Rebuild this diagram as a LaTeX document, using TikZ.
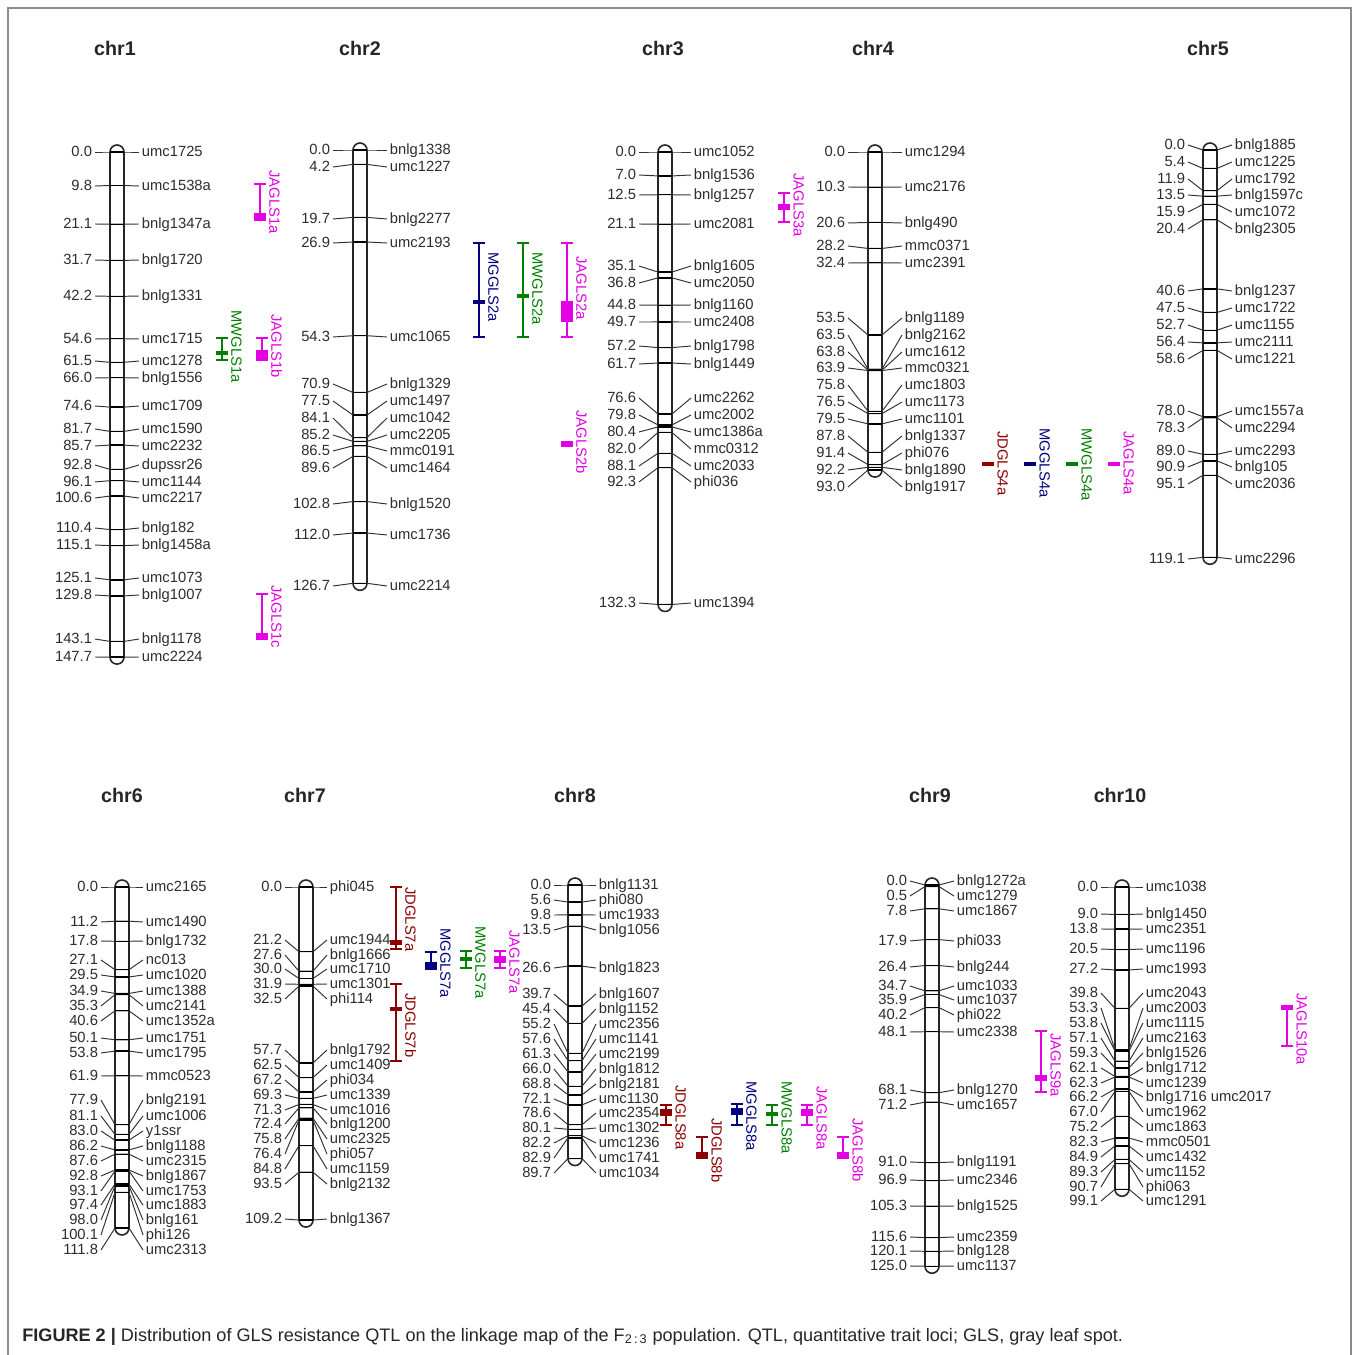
\documentclass[tikz,border=0pt]{standalone}
\usepackage{fontspec}
\setmainfont{Liberation Sans}
\usetikzlibrary{positioning}

\definecolor{colJA}{RGB}{228,0,228}
\definecolor{colMW}{RGB}{0,128,0}
\definecolor{colMG}{RGB}{0,0,128}
\definecolor{colJD}{RGB}{139,0,0}
\definecolor{testo}{RGB}{45,45,45}

% cromosoma: nome, x centro, y di 0 cM, scala, lunghezza, distanza etichette, lista pos/y etichetta/marcatore
\newcommand{\cromo}[7]{%
  \pgfmathsetmacro{\yfine}{#3+#5*#4}
  \draw[barra] (#2-7,#3-7) rectangle (#2+7,\yfine+7);
  \foreach \p/\ly/\m [count=\i] in {#7} {
    \pgfmathsetmacro{\ty}{#3+\p*#4}
    \node[num] (#1-n\i) at (#2-#6,\ly) {\p};
    \node[mk] (#1-m\i) at (#2+#6,\ly) {\m};
    \draw[tacca] (#1-n\i.mid east) -- (#2-7,\ty) -- (#2+7,\ty) -- (#1-m\i.mid west);
    \draw[attraverso] (#2-7,\ty) -- (#2+7,\ty);
  }
}

% QTL: colore, x, inizio, fine, picco da, picco a, nome, y etichetta
\newcommand{\qtl}[8]{%
  \draw[qbar, #1] (#2-6,#3) -- (#2+6,#3) (#2,#3) -- (#2,#4) (#2-6,#4) -- (#2+6,#4);
  \fill[#1] (#2-6,#5) rectangle (#2+6,#6);
  \node[qlab, text=#1] (#7) at (#2+9,#8) {#7};
}
% QTL con solo il picco
\newcommand{\qtlpk}[6]{%
  \fill[#1] (#2-6,#3) rectangle (#2+6,#4);
  \node[qlab, text=#1] (#5) at (#2+9,#6) {#5};
}

\begin{document}
\begin{tikzpicture}[
    x=0.02cm, y=-0.02cm,
    barra/.style={draw=black!85, line width=0.9pt, fill=white, rounded corners=0.14cm},
    tacca/.style={draw=black!80, line width=0.55pt},
    attraverso/.style={draw=black, line width=0.75pt},
    num/.style={anchor=mid east, inner sep=1.5pt, text=testo, font=\fontsize{8.4}{10}\selectfont},
    mk/.style={anchor=mid west, inner sep=1.5pt, text=testo, font=\fontsize{8.4}{10}\selectfont},
    qbar/.style={line width=0.6pt},
    qlab/.style={rotate=-90, anchor=south west, inner sep=0pt, font=\fontsize{8.4}{10}\selectfont},
    titolo/.style={font=\bfseries\fontsize{11.2}{13}\selectfont, text=black!85}
  ]
  \useasboundingbox (0,0) rectangle (1357,1355);
  \fill[white] (0,0) rectangle (1357,1355);
  \draw[black!45, line width=0.6pt] (8,1355) -- (8,8) -- (1351,8) -- (1351,1355);

  % titoli
  \node[titolo] (t1) at (115,48) {chr1};
  \node[titolo] (t2) at (360,48) {chr2};
  \node[titolo] (t3) at (663,48) {chr3};
  \node[titolo] (t4) at (873,48) {chr4};
  \node[titolo] (t5) at (1208,48) {chr5};
  \node[titolo] (t6) at (122,795) {chr6};
  \node[titolo] (t7) at (305,795) {chr7};
  \node[titolo] (t8) at (575,795) {chr8};
  \node[titolo] (t9) at (930,795) {chr9};
  \node[titolo] (t10) at (1120,795) {chr10};

  % cromosomi
  \cromo{c1}{117}{152}{3.42}{147.7}{22}{0.0/152/umc1725, 9.8/186/umc1538a, 21.1/224/bnlg1347a, 31.7/260/bnlg1720, 42.2/296/bnlg1331, 54.6/339/umc1715, 61.5/361/umc1278, 66.0/378/bnlg1556, 74.6/406/umc1709, 81.7/429/umc1590, 85.7/446/umc2232, 92.8/465/dupssr26, 96.1/482/umc1144, 100.6/498/umc2217, 110.4/528/bnlg182, 115.1/545/bnlg1458a, 125.1/578/umc1073, 129.8/595/bnlg1007, 143.1/639/bnlg1178, 147.7/657/umc2224}

  \cromo{c2}{360}{150}{3.42}{126.7}{27}{0.0/150/bnlg1338, 4.2/167/umc1227, 19.7/219/bnlg2277, 26.9/243/umc2193, 54.3/337/umc1065, 70.9/384/bnlg1329, 77.5/401/umc1497, 84.1/418/umc1042, 85.2/435/umc2205, 86.5/451/mmc0191, 89.6/468/umc1464, 102.8/504/bnlg1520, 112.0/535/umc1736, 126.7/586/umc2214}

  \cromo{c3}{665}{152}{3.42}{132.3}{26}{0.0/152/umc1052, 7.0/175/bnlg1536, 12.5/195/bnlg1257, 21.1/224/umc2081, 35.1/266/bnlg1605, 36.8/283/umc2050, 44.8/305/bnlg1160, 49.7/322/umc2408, 57.2/346/bnlg1798, 61.7/364/bnlg1449, 76.6/398/umc2262, 79.8/415/umc2002, 80.4/432/umc1386a, 82.0/449/mmc0312, 88.1/466/umc2033, 92.3/482/phi036, 132.3/603/umc1394}

  \cromo{c4}{875}{152}{3.42}{93.0}{27}{0.0/152/umc1294, 10.3/187/umc2176, 20.6/223/bnlg490, 28.2/246/mmc0371, 32.4/263/umc2391, 53.5/318/bnlg1189, 63.5/335/bnlg2162, 63.8/352/umc1612, 63.9/368/mmc0321, 75.8/385/umc1803, 76.5/402/umc1173, 79.5/419/umc1101, 87.8/436/bnlg1337, 91.4/453/phi076, 92.2/470/bnlg1890, 93.0/487/bnlg1917}

  \cromo{c5}{1210}{150}{3.42}{119.1}{22}{0.0/145/bnlg1885, 5.4/162/umc1225, 11.9/179/umc1792, 13.5/195/bnlg1597c, 15.9/212/umc1072, 20.4/229/bnlg2305, 40.6/291/bnlg1237, 47.5/308/umc1722, 52.7/325/umc1155, 56.4/342/umc2111, 58.6/359/umc1221, 78.0/411/umc1557a, 78.3/428/umc2294, 89.0/451/umc2293, 90.9/467/bnlg105, 95.1/484/umc2036, 119.1/559/umc2296}

  \cromo{c6}{122}{887}{3.05}{111.8}{21}{0.0/887/umc2165, 11.2/922/umc1490, 17.8/941/bnlg1732, 27.1/960/nc013, 29.5/975/umc1020, 34.9/991/umc1388, 35.3/1006/umc2141, 40.6/1021/umc1352a, 50.1/1038/umc1751, 53.8/1053/umc1795, 61.9/1076/mmc0523, 77.9/1100/bnlg2191, 81.1/1116/umc1006, 83.0/1131/y1ssr, 86.2/1146/bnlg1188, 87.6/1161/umc2315, 92.8/1176/bnlg1867, 93.1/1191/umc1753, 97.4/1205/umc1883, 98.0/1220/bnlg161, 100.1/1235/phi126, 111.8/1250/umc2313}

  \cromo{c7}{306}{887}{3.05}{109.2}{21}{0.0/887/phi045, 21.2/940/umc1944, 27.6/955/bnlg1666, 30.0/969/umc1710, 31.9/984/umc1301, 32.5/999/phi114, 57.7/1050/bnlg1792, 62.5/1065/umc1409, 67.2/1080/phi034, 69.3/1095/umc1339, 71.3/1110/umc1016, 72.4/1124/bnlg1200, 75.8/1139/umc2325, 76.4/1154/phi057, 84.8/1169/umc1159, 93.5/1184/bnlg2132, 109.2/1219/bnlg1367}

  \cromo{c8}{575}{885}{3.05}{89.7}{21}{0.0/885/bnlg1131, 5.6/900/phi080, 9.8/915/umc1933, 13.5/930/bnlg1056, 26.6/968/bnlg1823, 39.7/994/bnlg1607, 45.4/1009/bnlg1152, 55.2/1024/umc2356, 57.6/1039/umc1141, 61.3/1054/umc2199, 66.0/1069/bnlg1812, 68.8/1084/bnlg2181, 72.1/1099/umc1130, 78.6/1113/umc2354, 80.1/1128/umc1302, 82.2/1143/umc1236, 82.9/1158/umc1741, 89.7/1173/umc1034}

  \cromo{c9}{932}{885}{3.05}{125.0}{22}{0.0/881/bnlg1272a, 0.5/896/umc1279, 7.8/911/umc1867, 17.9/941/phi033, 26.4/967/bnlg244, 34.7/986/umc1033, 35.9/1000/umc1037, 40.2/1015/phi022, 48.1/1032/umc2338, 68.1/1090/bnlg1270, 71.2/1105/umc1657, 91.0/1162/bnlg1191, 96.9/1180/umc2346, 105.3/1206/bnlg1525, 115.6/1237/umc2359, 120.1/1251/bnlg128, 125.0/1266/umc1137}

  \cromo{c10}{1122}{887}{3.05}{99.1}{21}{0.0/887/umc1038, 9.0/914/bnlg1450, 13.8/929/umc2351, 20.5/949/umc1196, 27.2/969/umc1993, 39.8/993/umc2043, 53.3/1008/umc2003, 53.8/1023/umc1115, 57.1/1038/umc2163, 59.3/1053/bnlg1526, 62.1/1068/bnlg1712, 62.3/1083/umc1239, 66.2/1097/bnlg1716 umc2017, 67.0/1112/umc1962, 75.2/1127/umc1863, 82.3/1142/mmc0501, 84.9/1157/umc1432, 89.3/1172/umc1152, 90.7/1187/phi063, 99.1/1201/umc1291}

  % QTL
  \qtl{colJA}{260}{184}{220}{213}{219}{JAGLS1a}{170}
  \qtl{colMW}{222}{338}{360}{351}{355}{MWGLS1a}{310}
  \qtl{colJA}{262}{338}{360}{350}{360}{JAGLS1b}{314}
  \qtl{colJA}{262}{594}{638}{633}{640}{JAGLS1c}{585}
  \qtl{colMG}{479}{243}{337}{300}{304}{MGGLS2a}{252}
  \qtl{colMW}{523}{243}{337}{294}{298}{MWGLS2a}{252}
  \qtl{colJA}{567}{243}{337}{301}{322}{JAGLS2a}{256}
  \qtlpk{colJA}{567}{441}{447}{JAGLS2b}{410}
  \qtl{colJA}{784}{193}{222}{204}{210}{JAGLS3a}{173}
  \qtlpk{colJD}{988}{462}{466}{JDGLS4a}{431}
  \qtlpk{colMG}{1030}{462}{466}{MGGLS4a}{428}
  \qtlpk{colMW}{1072}{462}{466}{MWGLS4a}{428}
  \qtlpk{colJA}{1114}{462}{466}{JAGLS4a}{431}
  \qtl{colJD}{396}{887}{949}{940}{945}{JDGLS7a}{887}
  \qtl{colMG}{431}{952}{968}{962}{970}{MGGLS7a}{928}
  \qtl{colMW}{466}{951}{968}{957}{961}{MWGLS7a}{926}
  \qtl{colJA}{500}{951}{968}{956}{963}{JAGLS7a}{930}
  \qtl{colJD}{396}{984}{1061}{1007}{1011}{JDGLS7b}{993}
  \qtl{colJD}{666}{1105}{1125}{1109}{1116}{JDGLS8a}{1085}
  \qtl{colJD}{702}{1137}{1157}{1152}{1159}{JDGLS8b}{1118}
  \qtl{colMG}{737}{1104}{1125}{1108}{1115}{MGGLS8a}{1081}
  \qtl{colMW}{772}{1105}{1125}{1112}{1116}{MWGLS8a}{1081}
  \qtl{colJA}{807}{1105}{1125}{1109}{1116}{JAGLS8a}{1086}
  \qtl{colJA}{843}{1137}{1157}{1152}{1159}{JAGLS8b}{1118}
  \qtl{colJA}{1041}{1031}{1092}{1075}{1081}{JAGLS9a}{1033}
  \qtl{colJA}{1287}{1008}{1046}{1005}{1010}{JAGLS10a}{993}

  % didascalia
  \node[anchor=base west, inner sep=0pt, font=\fontsize{10.3}{12}\selectfont, text=black!85] (cap) at (22,1341)
    {\textbf{FIGURE 2 |} Distribution of GLS resistance QTL on the linkage map of the F\textsubscript{2\,:\,3} population. QTL, quantitative trait loci; GLS, gray leaf spot.};
\end{tikzpicture}
\end{document}
